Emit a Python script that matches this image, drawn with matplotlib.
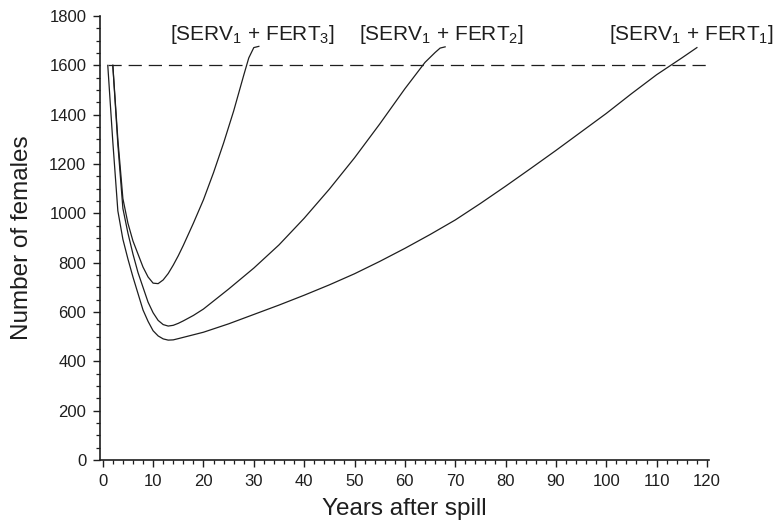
import numpy as np
import matplotlib.pyplot as plt
from matplotlib.ticker import MultipleLocator

plt.rcParams['font.family'] = ['Liberation Sans', 'DejaVu Sans']
plt.rcParams['mathtext.default'] = 'regular'
plt.rcParams['lines.scale_dashes'] = False

# values (years after spill, number of females)
years_fert1 = [1, 2, 3, 4, 5, 6, 7, 8, 9, 10, 11, 12, 13, 14, 15, 20, 25, 30, 35, 40,
               45, 50, 55, 60, 65, 70, 75, 80, 85, 90, 95, 100, 105, 110, 115, 118]
females_fert1 = [1600, 1290, 1010, 895, 815, 742, 675, 608, 562, 524, 503, 491, 486, 487,
                 492, 518, 552, 590, 628, 668, 710, 755, 805, 858, 914, 973, 1040, 1110,
                 1182, 1255, 1330, 1405, 1485, 1562, 1630, 1672]

years_fert2 = [2, 3, 4, 5, 6, 7, 8, 9, 10, 11, 12, 13, 14, 15, 16, 18, 20, 25, 30, 35,
               40, 45, 50, 55, 60, 64, 66, 67, 68]
females_fert2 = [1600, 1280, 1020, 920, 835, 760, 700, 640, 597, 566, 549, 543, 546, 554,
                 564, 586, 612, 693, 778, 872, 980, 1098, 1225, 1362, 1505, 1612, 1652,
                 1670, 1675]

years_fert3 = [2, 3, 4, 5, 6, 7, 8, 9, 10, 11, 12, 13, 14, 15, 16, 18, 20, 22, 24, 26,
               28, 29, 30, 31]
females_fert3 = [1600, 1300, 1060, 960, 888, 835, 782, 742, 717, 715, 730, 756, 790, 828,
                 870, 960, 1055, 1165, 1285, 1415, 1560, 1630, 1672, 1677]

threshold = 1600
labels = ['[SERV$_1$ + FERT$_1$]', '[SERV$_1$ + FERT$_2$]', '[SERV$_1$ + FERT$_3$]']
label_x = [117.0, 67.2, 29.8]

fig = plt.figure(figsize=(7.78, 5.22), dpi=100)
ax = fig.add_axes([0.1285, 0.1188, 0.7828, 0.8505])

ax.plot([1, 120], [threshold, threshold], color='#1e1e1e', lw=0.9, dashes=(9.5, 5.0))
for xs, ys in [(years_fert1, females_fert1), (years_fert2, females_fert2),
               (years_fert3, females_fert3)]:
    ax.plot(xs, ys, color='#1e1e1e', lw=0.9)

for lab, lx in zip(labels, label_x):
    ax.text(lx, 1702, lab, ha='center', va='baseline', fontsize=15, color='#1e1e1e')

ax.set_xlim(-0.55, 120.4)
ax.set_ylim(0, 1800)
ax.xaxis.set_major_locator(MultipleLocator(10))
ax.xaxis.set_minor_locator(MultipleLocator(2))
ax.yaxis.set_major_locator(MultipleLocator(200))
ax.yaxis.set_minor_locator(MultipleLocator(50))

for side in ['top', 'right']:
    ax.spines[side].set_visible(False)
for side in ['left', 'bottom']:
    ax.spines[side].set_linewidth(1.2)
    ax.spines[side].set_color('#1e1e1e')

ax.tick_params(which='major', length=4.8, width=1.0, labelsize=12, colors='#1e1e1e', pad=5)
ax.tick_params(which='minor', length=2.8, width=0.9, colors='#1e1e1e')

ax.set_xlabel('Years after spill', fontsize=17.5, color='#1e1e1e', labelpad=7)
ax.set_ylabel('Number of females', fontsize=17.5, color='#1e1e1e', labelpad=12)

fig.savefig('out.png', dpi=100)
